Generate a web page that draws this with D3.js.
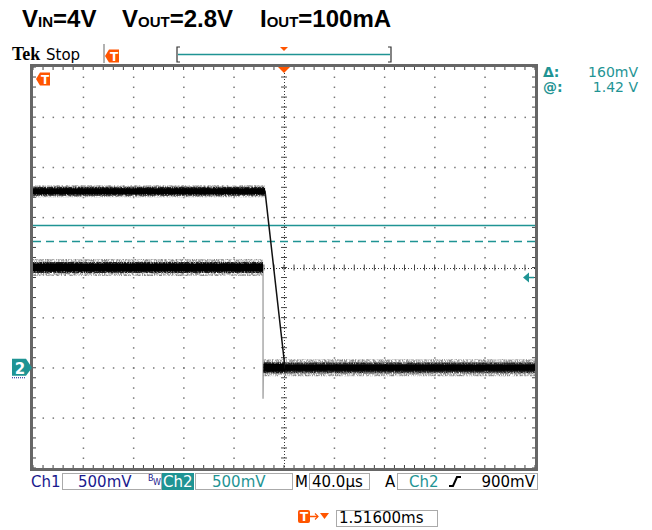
<!DOCTYPE html>
<html><head><meta charset="utf-8">
<script src="https://cdn.jsdelivr.net/npm/d3@7/dist/d3.min.js"></script>
<style>
html,body{margin:0;padding:0;background:#fff;}
svg text{font-family:"DejaVu Sans",sans-serif;}
</style></head>
<body>
<svg id="c" width="652" height="530"></svg>
<script>
// ---------- data ----------
const titleParts = [["V","IN","=4V"],["V","OUT","=2.8V"],["I","OUT","=100mA"]];
const timeDomainUs = [-200, 200];     // 40 µs/div, 10 div
const voltDomain = [-1, 3];           // 500 mV/div, 8 div, Ch2 ground at 0 V
const ch1Time = [-200, -15.1, 0.8, 200];
const ch1Volt = [1.76, 1.76, 0.0, 0.0];
const ch2Time = [-200, -16.7, -16.7, -16.4, 200];
const ch2Volt = [1.0, 1.0, -0.31, 0.0, 0.0];
const cursorVolts = [1.42, 1.26];
const triggerLevelV = 0.9;
const readoutLabels = ["\u0394:", "@:"];
const readoutValues = ["160mV", "1.42 V"];
const ch1Scale = "500mV", ch2Scale = "500mV", timeScale = "40.0\u00b5s";
const trigSource = "Ch2", trigLevel = "900mV", trigTime = "1.51600ms";

// ---------- setup ----------
const svg = d3.select("#c");
const TEAL = "#1f9494", ORANGE = "#ff5500", NAVY = "#1a1a8e";
const L = 33, R = 535, T = 67, B = 468;
const x = d3.scaleLinear().domain(timeDomainUs).range([L, R]);
const y = d3.scaleLinear().domain(voltDomain).range([B, T]);

const defs = svg.append("defs");
function fuzzFilter(id, seed, k, b){
  const f = defs.append("filter").attr("id",id).attr("filterUnits","userSpaceOnUse")
    .attr("x",0).attr("y",0).attr("width",652).attr("height",530);
  f.append("feTurbulence").attr("type","fractalNoise").attr("baseFrequency","0.9 0.4").attr("numOctaves",2).attr("seed",seed).attr("result","n");
  f.append("feColorMatrix").attr("in","n").attr("type","matrix")
   .attr("values",`0 0 0 0 0  0 0 0 0 0  0 0 0 0 0  ${k} 0 0 0 ${b}`).attr("result","a");
  f.append("feComposite").attr("in","SourceGraphic").attr("in2","a").attr("operator","in");
}
fuzzFilter("fuzzA", 7, 3.0, -1.0);
fuzzFilter("fuzzB", 3, 4.0, -1.1);

// ---------- title ----------
const titleX = [22, 122, 260];
titleParts.forEach((p,i)=>{
  const t = svg.append("text").attr("x",titleX[i]).attr("y",27)
    .style("font-family","'Liberation Sans',Arial,sans-serif").style("font-weight","bold").style("font-size","24px").attr("fill","#000");
  t.append("tspan").text(p[0]);
  t.append("tspan").style("font-size","15px").text(p[1]);
  t.append("tspan").text(p[2]);
});

// ---------- header ----------
svg.append("text").attr("x",12).attr("y",60).text("Tek")
  .style("font-family","'Liberation Serif',serif").style("font-weight","bold").style("font-size","18px");
svg.append("text").attr("x",46).attr("y",60).text("Stop").style("font-size","15px");
svg.append("line").attr("x1",104).attr("x2",104).attr("y1",44).attr("y2",63).attr("stroke","#999").attr("stroke-width",1.5);
function tMarker(cx, cy, dir){
  const g = svg.append("g").attr("transform",`translate(${cx},${cy})`);
  const w = 14, h = 13;
  const pts = dir<0 ? [[-w/2,0],[-w/2+4,-h/2],[w/2,-h/2],[w/2,h/2],[-w/2+4,h/2]]
                    : [[w/2,0],[w/2-4,-h/2],[-w/2,-h/2],[-w/2,h/2],[w/2-4,h/2]];
  g.append("path").attr("d","M"+pts.join("L")+"Z").attr("fill",ORANGE);
  g.append("text").attr("x",dir<0?2:-1).attr("y",5).attr("text-anchor","middle").attr("fill","#fff")
    .style("font-size","12px").style("font-weight","bold").text("T");
}
tMarker(112, 56, -1);
svg.append("path").attr("d","M180,47H177V62H180").attr("fill","none").attr("stroke","#333").attr("stroke-width",1.2);
svg.append("path").attr("d","M388,47H391V62H388").attr("fill","none").attr("stroke","#333").attr("stroke-width",1.2);
svg.append("line").attr("x1",178).attr("x2",390).attr("y1",54.5).attr("y2",54.5).attr("stroke",TEAL).attr("stroke-width",1.5);
svg.append("path").attr("d",`M${x(0)-4},47L${x(0)+4},47L${x(0)},51Z`).attr("fill",ORANGE);

// ---------- graticule ----------
const grid = svg.append("g");
const xMaj = d3.range(timeDomainUs[0], timeDomainUs[1]+0.1, 40);
const yMaj = d3.range(voltDomain[0], voltDomain[1]+0.01, 0.5);
const xMin = d3.range(timeDomainUs[0], timeDomainUs[1]+0.1, 8);
const yMin = d3.range(voltDomain[0], voltDomain[1]+0.001, 0.1);
const vC = (voltDomain[0]+voltDomain[1])/2;
xMaj.slice(1,-1).forEach(t=>{ if(t===0) return;
  yMin.slice(1,-1).forEach(v=>grid.append("rect").attr("x",x(t)-0.5).attr("y",y(v)-0.5).attr("width",1.5).attr("height",1.5).attr("fill","#777"));
});
yMaj.slice(1,-1).forEach(v=>{ if(Math.abs(v-vC)<1e-6) return;
  xMin.slice(1,-1).forEach(t=>grid.append("rect").attr("x",x(t)-0.5).attr("y",y(v)-0.5).attr("width",1.5).attr("height",1.5).attr("fill","#777"));
});
grid.append("line").attr("x1",L).attr("x2",R).attr("y1",Math.round(y(vC))+0.5).attr("y2",Math.round(y(vC))+0.5)
  .attr("stroke","#333").attr("stroke-dasharray","1,2");
grid.append("line").attr("x1",Math.round(x(0))+0.5).attr("x2",Math.round(x(0))+0.5).attr("y1",T).attr("y2",B)
  .attr("stroke","#333").attr("stroke-dasharray","1,2");
xMin.slice(1,-1).forEach(t=>grid.append("line").attr("x1",x(t)).attr("x2",x(t)).attr("y1",y(vC)-3).attr("y2",y(vC)+3).attr("stroke","#444").attr("stroke-width",1));
yMin.slice(1,-1).forEach(v=>grid.append("line").attr("y1",y(v)).attr("y2",y(v)).attr("x1",x(0)-3).attr("x2",x(0)+3).attr("stroke","#444").attr("stroke-width",1));
xMin.forEach(t=>{
  grid.append("line").attr("x1",x(t)).attr("x2",x(t)).attr("y1",T).attr("y2",T+3).attr("stroke","#444");
  grid.append("line").attr("x1",x(t)).attr("x2",x(t)).attr("y1",B-3).attr("y2",B).attr("stroke","#444");
});
yMin.forEach(v=>{
  grid.append("line").attr("y1",y(v)).attr("y2",y(v)).attr("x1",L).attr("x2",L+3).attr("stroke","#444");
  grid.append("line").attr("y1",y(v)).attr("y2",y(v)).attr("x1",R-3).attr("x2",R).attr("stroke","#444");
});
grid.append("rect").attr("x",L-1.5).attr("y",T-1.5).attr("width",R-L+3).attr("height",B-T+3)
  .attr("fill","none").attr("stroke","#666").attr("stroke-width",3);

// ---------- cursors ----------
svg.append("line").attr("x1",L).attr("x2",R).attr("y1",y(cursorVolts[0])).attr("y2",y(cursorVolts[0])).attr("stroke",TEAL).attr("stroke-width",1.5);
svg.append("line").attr("x1",L).attr("x2",R).attr("y1",y(cursorVolts[1])).attr("y2",y(cursorVolts[1])).attr("stroke",TEAL).attr("stroke-width",1.5).attr("stroke-dasharray","8,5");

// ---------- traces ----------
const line = d3.line().x(d=>x(d[0])).y(d=>y(d[1]));
function drawTrace(ts, vs, edgeColor, coreW, fuzzW){
  const pts = ts.map((t,i)=>[t, vs[i]]);
  const g = svg.append("g");
  g.append("path").attr("d",line(pts)).attr("fill","none").attr("stroke",edgeColor).attr("stroke-width",1.5);
  for(let i=0;i<pts.length-1;i++){
    if(pts[i][1]!==pts[i+1][1]) continue;
    const seg=[pts[i],pts[i+1]];
    g.append("path").attr("d",line(seg)).attr("stroke","#8a8a8a").attr("stroke-width",fuzzW).attr("filter","url(#fuzzA)");
    g.append("path").attr("d",line(seg)).attr("stroke","#222").attr("stroke-width",coreW+3).attr("filter","url(#fuzzB)");
    g.append("path").attr("d",line(seg)).attr("stroke","#000").attr("stroke-width",coreW);
  }
}
drawTrace(ch2Time, ch2Volt, "#aaa", 8, 17);
drawTrace(ch1Time, ch1Volt, "#111", 6, 12);

svg.append("path").attr("d",`M${x(0)-6},${T}L${x(0)+6},${T}L${x(0)},${T+6}Z`).attr("fill",ORANGE);
tMarker(43, 79, -1);
const ty = y(triggerLevelV);
svg.append("path").attr("d",`M${R-12},${ty}L${R-6},${ty-5}L${R-6},${ty+5}Z`).attr("fill",TEAL);
svg.append("line").attr("x1",R-8).attr("x2",R-1).attr("y1",ty).attr("y2",ty).attr("stroke",TEAL).attr("stroke-width",1.5);
const gy = y(0);
const cm = svg.append("g");
cm.append("path").attr("d",`M12,${gy-9}L26,${gy-9}L32,${gy}L26,${gy+8}L12,${gy+8}Z`).attr("fill",TEAL);
cm.append("text").attr("x",20).attr("y",gy+6).attr("text-anchor","middle").attr("fill","#fff").style("font-size","15px").style("font-weight","bold").text("2");
cm.append("line").attr("x1",12).attr("x2",26).attr("y1",gy+10).attr("y2",gy+10).attr("stroke",NAVY).attr("stroke-dasharray","1,1");

// ---------- readout ----------
readoutLabels.forEach((s,i)=>{
  svg.append("text").attr("x",543).attr("y",77+i*15).attr("fill",TEAL).style("font-size","14px").style("font-weight","bold").text(s);
  svg.append("text").attr("x",638).attr("y",77+i*15).attr("text-anchor","end").attr("fill",TEAL).style("font-size","14px").text(readoutValues[i]);
});

// ---------- bottom bar ----------
const by = 487;
function box(x0,x1,y0,y1,fill){ svg.append("rect").attr("x",x0+0.5).attr("y",y0+0.5).attr("width",x1-x0).attr("height",y1-y0).attr("fill",fill||"none").attr("stroke",fill||"#aaa"); }
svg.append("text").attr("x",31).attr("y",by).attr("fill",NAVY).style("font-size","15px").text("Ch1");
box(62,161,473,489);
svg.append("text").attr("x",78).attr("y",by).attr("fill",NAVY).style("font-size","15px").text(ch1Scale);
svg.append("text").attr("x",148).attr("y",481).attr("fill",NAVY).style("font-size","8px").text("B");
svg.append("text").attr("x",153).attr("y",485).attr("fill",NAVY).style("font-size","8px").text("W");
box(162,193,473,489,TEAL);
svg.append("text").attr("x",163).attr("y",by).attr("fill","#fff").style("font-size","15px").text("Ch2");
box(195,292,473,489);
svg.append("text").attr("x",212).attr("y",by).attr("fill",TEAL).style("font-size","15px").text(ch2Scale);
svg.append("text").attr("x",295).attr("y",by).attr("fill","#000").style("font-size","15px").text("M");
box(309,369,473,489);
svg.append("text").attr("x",312).attr("y",by).attr("fill","#000").style("font-size","15px").text(timeScale);
svg.append("text").attr("x",385).attr("y",by).attr("fill","#000").style("font-size","15px").text("A");
box(397,537,473,489);
svg.append("text").attr("x",409).attr("y",by).attr("fill",TEAL).style("font-size","15px").text(trigSource);
svg.append("path").attr("d","M449,486H453L457,477H461").attr("fill","none").attr("stroke","#000").attr("stroke-width",2);
svg.append("text").attr("x",535).attr("y",by).attr("text-anchor","end").attr("fill","#000").style("font-size","15px").text(trigLevel);

const tg = svg.append("g");
tg.append("rect").attr("x",298).attr("y",510).attr("width",12).attr("height",13).attr("rx",2).attr("fill",ORANGE);
tg.append("text").attr("x",304).attr("y",521).attr("text-anchor","middle").attr("fill","#fff").style("font-size","12px").style("font-weight","bold").text("T");
tg.append("line").attr("x1",310).attr("x2",318).attr("y1",516.5).attr("y2",516.5).attr("stroke",ORANGE).attr("stroke-width",1.5);
tg.append("path").attr("d","M315,513.5L318,516.5L315,519.5").attr("fill","none").attr("stroke",ORANGE).attr("stroke-width",1.2);
tg.append("path").attr("d","M320,513L329,513L324.5,519Z").attr("fill",ORANGE);
box(336,437,510,526);
svg.append("text").attr("x",339).attr("y",523).attr("fill","#000").style("font-size","15px").text(trigTime);
</script>
</body></html>
